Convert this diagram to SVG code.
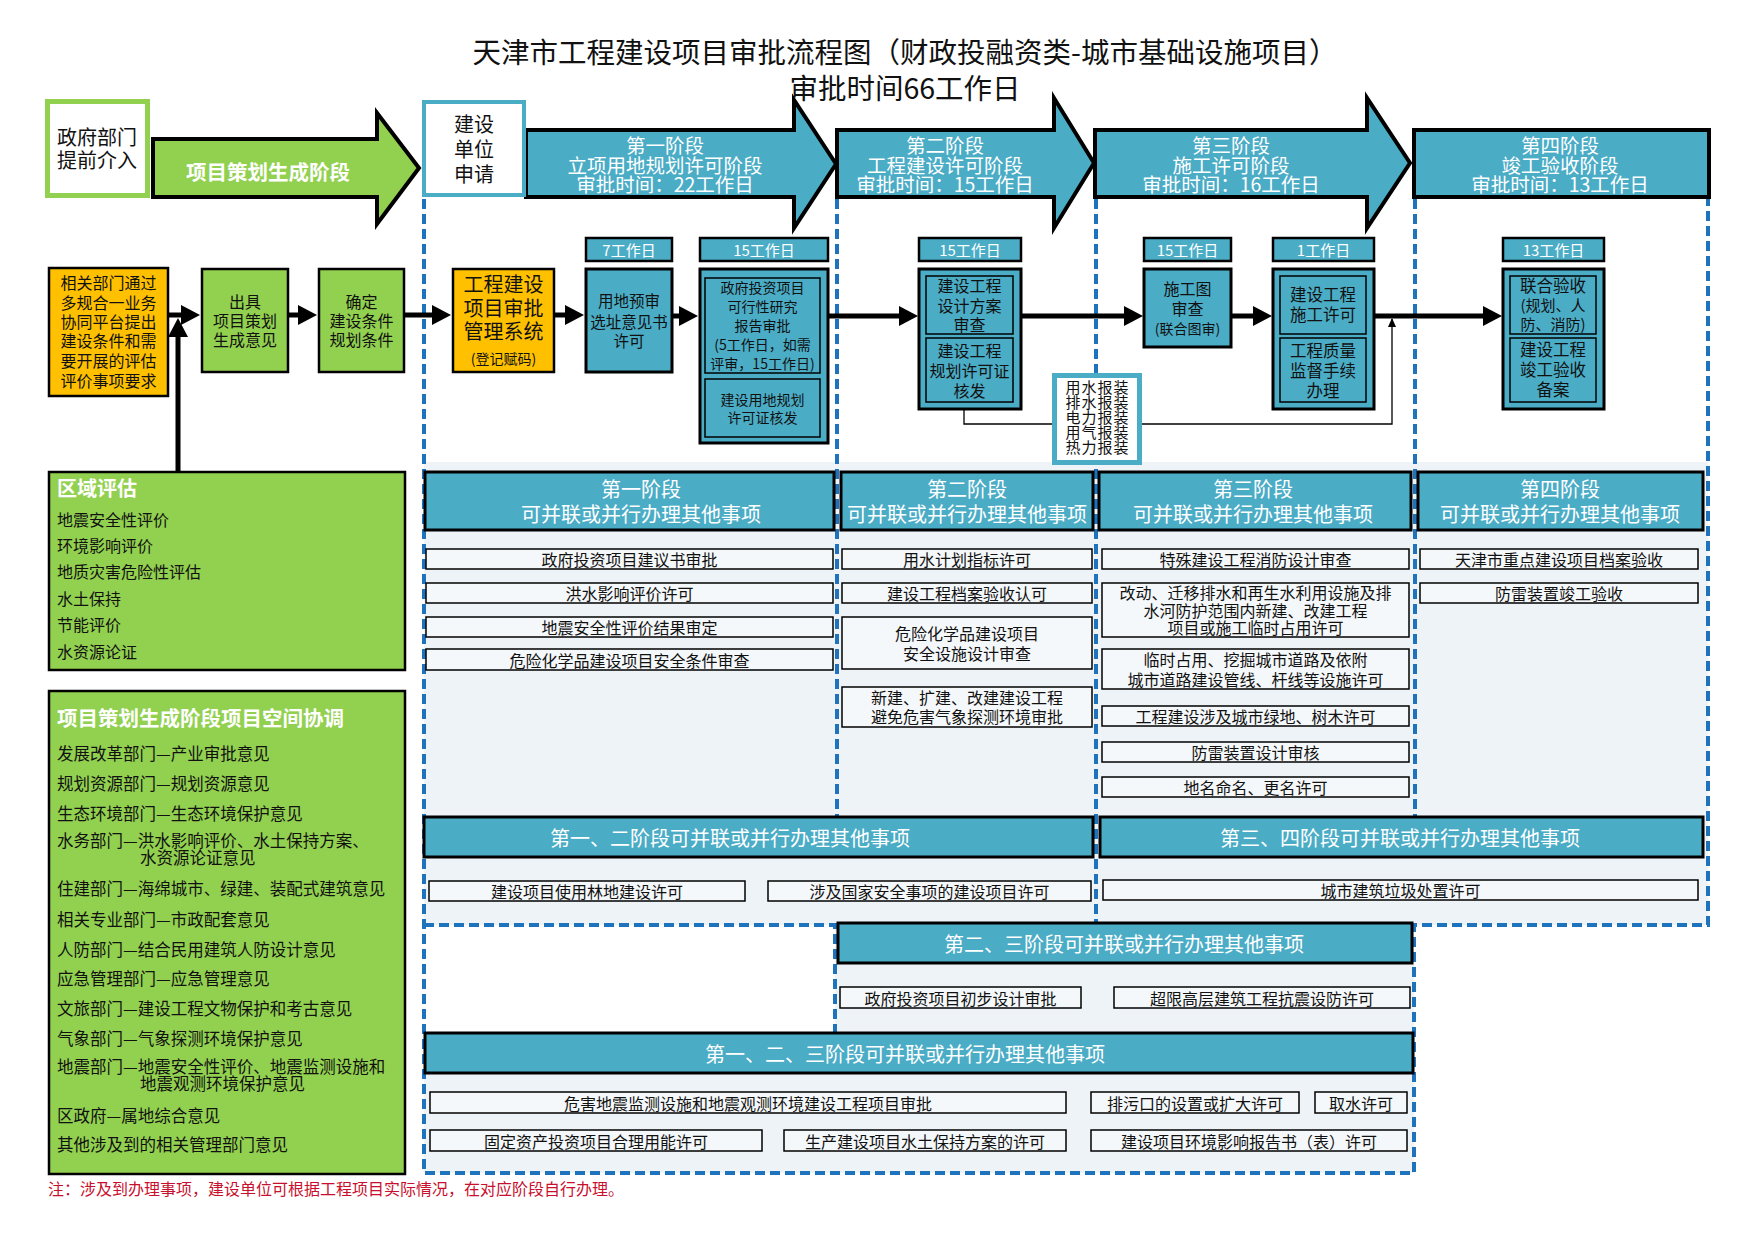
<svg xmlns="http://www.w3.org/2000/svg" width="1754" height="1240" viewBox="0 0 1754 1240">
<defs>
<style>
text{font-family:"Noto Sans CJK SC","Noto Sans CJK JP",sans-serif;dominant-baseline:central;text-anchor:middle;fill:#111;font-size:16px}
tspan{dominant-baseline:central}
.w{fill:#fff}
.bd{font-weight:bold}
.l{text-anchor:start}
.f14{font-size:14px}
.f15{font-size:15px}
.f20{font-size:20px}
.hd{font-size:19.5px;fill:#fff}
.ut{font-size:15px;letter-spacing:1px}
.cd{font-size:16.5px;text-anchor:start}
.blk{fill:#4bacc6;stroke:#000;stroke-width:3}
.inn{fill:#4bacc6;stroke:#000;stroke-width:1.5}
.lab{fill:#4bacc6;stroke:#000;stroke-width:2.5}
.bar{fill:#4bacc6;stroke:#000;stroke-width:3}
.item{fill:#f5f8fa;stroke:#000;stroke-width:1.5}
.grn{fill:#92d050;stroke:#000;stroke-width:2.5}
.org{fill:#ffc000;stroke:#000;stroke-width:2.5}
.dash{fill:none;stroke:#1f72bc;stroke-width:4;stroke-dasharray:10 5}
.thick{stroke:#000;stroke-width:5;fill:none;marker-end:url(#ah)}
.thin{stroke:#000;stroke-width:1.3;fill:none;marker-end:url(#ah2)}
.big{stroke:#000;stroke-width:4;stroke-linejoin:miter}
</style>
<marker id="ah" markerUnits="userSpaceOnUse" markerWidth="20" markerHeight="20" refX="9" refY="10" orient="auto"><path d="M0,0 L19,10 L0,20 z" fill="#000"/></marker>
<marker id="ah2" markerUnits="userSpaceOnUse" markerWidth="9" markerHeight="8" refX="8" refY="4" orient="auto"><path d="M0,0 L9,4 L0,8 z" fill="#000"/></marker>
</defs>
<rect width="1754" height="1240" fill="#fff"/>

<g id="title">
<text style="font-size:28.5px"><tspan x="905" y="50">天津市工程建设项目审批流程图（财政投融资类-城市基础设施项目）</tspan><tspan x="905" y="86">审批时间66工作日</tspan></text>
</g>

<g id="regions">
<path d="M424,462 H1708 V925 H1414 V1173 H424 V1033 H835 V925 H424 Z" fill="#eef3f7"/>
<path class="dash" d="M424,199 V1173 H1414 V925 H1708 V199"/>
<path class="dash" d="M424,925 H835 V1033"/>
<path class="dash" d="M837,199 V817"/>
<path class="dash" d="M1096,199 V925"/>
<path class="dash" d="M1415,199 V817"/>
</g>

<g id="connectors">
<path class="thick" d="M168,315 H190"/>
<path class="thick" d="M178,472 V328"/>
<path class="thick" d="M288,315 H307"/>
<path class="thick" d="M404,315 H441"/>
<path class="thick" d="M554,315 H574"/>
<path class="thick" d="M672,316 H688"/>
<path class="thick" d="M828,316 H908"/>
<path class="thick" d="M1021,316 H1133"/>
<path class="thick" d="M1231,316 H1262"/>
<path class="thick" d="M1374,316 H1492"/>
<path class="thin" d="M964,409 V424 H1392 V319"/>
</g>

<g id="n-gov">
<rect x="47.5" y="101.5" width="100" height="94" fill="#fff" stroke="#92d050" stroke-width="5"/>
<text class="f20"><tspan x="97" y="136">政府部门</tspan><tspan x="97" y="159">提前介入</tspan></text>
</g>

<g id="n-stage0">
<polygon class="big" fill="#92d050" points="153,139 377,139 377,113 419,168 377,224 377,197 153,197"/>
<text x="268" y="171" class="w bd" style="font-size:20.5px">项目策划生成阶段</text>
</g>

<g id="n-stage1">
<polygon class="big" fill="#4bacc6" points="526,130 794,130 794,100 836,164 794,228 794,197 526,197"/>
<text class="hd"><tspan x="665" y="144">第一阶段</tspan><tspan x="665" y="163.5">立项用地规划许可阶段</tspan><tspan x="665" y="183">审批时间：22工作日</tspan></text>
</g>

<g id="n-apply">
<rect x="424" y="102" width="100" height="93" fill="#fff" stroke="#4bacc6" stroke-width="4"/>
<text class="f20"><tspan x="474" y="123">建设</tspan><tspan x="474" y="148">单位</tspan><tspan x="474" y="173">申请</tspan></text>
</g>

<g id="n-stage2">
<polygon class="big" fill="#4bacc6" points="837,130 1054,130 1054,98 1094,163 1054,228 1054,197 837,197"/>
<text class="hd"><tspan x="945" y="144">第二阶段</tspan><tspan x="945" y="163.5">工程建设许可阶段</tspan><tspan x="945" y="183">审批时间：15工作日</tspan></text>
</g>

<g id="n-stage3">
<polygon class="big" fill="#4bacc6" points="1095,130 1367,130 1367,98 1410,163 1367,228 1367,197 1095,197"/>
<text class="hd"><tspan x="1231" y="144">第三阶段</tspan><tspan x="1231" y="163.5">施工许可阶段</tspan><tspan x="1231" y="183">审批时间：16工作日</tspan></text>
</g>

<g id="n-stage4">
<rect class="big" fill="#4bacc6" x="1414" y="130" width="295" height="67"/>
<text class="hd"><tspan x="1560" y="144">第四阶段</tspan><tspan x="1560" y="163.5">竣工验收阶段</tspan><tspan x="1560" y="183">审批时间：13工作日</tspan></text>
</g>

<g id="n-dept">
<rect class="org" x="49" y="268" width="119" height="128"/>
<text><tspan x="108.5" y="282">相关部门通过</tspan><tspan x="108.5" y="302">多规合一业务</tspan><tspan x="108.5" y="321">协同平台提出</tspan><tspan x="108.5" y="340">建设条件和需</tspan><tspan x="108.5" y="360">要开展的评估</tspan><tspan x="108.5" y="380">评价事项要求</tspan></text>
</g>

<g id="n-opinion">
<rect class="grn" x="202" y="269" width="86" height="103"/>
<text><tspan x="245" y="301">出具</tspan><tspan x="245" y="320">项目策划</tspan><tspan x="245" y="339">生成意见</tspan></text>
</g>

<g id="n-conditions">
<rect class="grn" x="319" y="269" width="85" height="103"/>
<text><tspan x="361.5" y="301">确定</tspan><tspan x="361.5" y="320">建设条件</tspan><tspan x="361.5" y="339">规划条件</tspan></text>
</g>

<g id="n-system">
<rect class="org" x="453" y="269" width="101" height="103"/>
<text class="f20"><tspan x="503.5" y="283">工程建设</tspan><tspan x="503.5" y="307">项目审批</tspan><tspan x="503.5" y="330">管理系统</tspan><tspan x="503.5" y="358" style="font-size:14px">(登记赋码)</tspan></text>
</g>

<g id="n-land">
<rect class="lab" x="586" y="238" width="86" height="23"/>
<text x="629" y="249.5" class="w f15">7工作日</text>
<rect class="blk" x="586" y="269" width="86" height="103"/>
<text style="font-size:15.5px"><tspan x="629" y="300">用地预审</tspan><tspan x="629" y="321">选址意见书</tspan><tspan x="629" y="340">许可</tspan></text>
</g>

<g id="n-feasibility">
<rect class="lab" x="700" y="238" width="128" height="23"/>
<text x="764" y="249.5" class="w f15">15工作日</text>
<rect class="blk" x="700" y="269" width="128" height="174"/>
<rect class="inn" x="705" y="278" width="115" height="95"/>
<text class="f14"><tspan x="762.5" y="287">政府投资项目</tspan><tspan x="762.5" y="306">可行性研究</tspan><tspan x="762.5" y="325">报告审批</tspan><tspan x="762.5" y="344">(5工作日，如需</tspan><tspan x="762.5" y="363">评审，15工作日)</tspan></text>
<rect class="inn" x="705" y="379" width="115" height="58"/>
<text class="f14"><tspan x="762.5" y="399">建设用地规划</tspan><tspan x="762.5" y="417">许可证核发</tspan></text>
</g>

<g id="n-design">
<rect class="lab" x="919" y="238" width="102" height="23"/>
<text x="970" y="249.5" class="w f15">15工作日</text>
<rect class="blk" x="919" y="269" width="102" height="140"/>
<rect class="inn" x="926" y="276" width="87" height="58"/>
<text><tspan x="969.5" y="285">建设工程</tspan><tspan x="969.5" y="305">设计方案</tspan><tspan x="969.5" y="324">审查</tspan></text>
<rect class="inn" x="926" y="338" width="87" height="64"/>
<text><tspan x="969.5" y="350">建设工程</tspan><tspan x="969.5" y="370">规划许可证</tspan><tspan x="969.5" y="390">核发</tspan></text>
</g>

<g id="n-utility">
<rect x="1054.5" y="375.5" width="85" height="87" fill="#fff" stroke="#4bacc6" stroke-width="5"/>
<text class="ut"><tspan x="1097.5" y="386">用水报装</tspan><tspan x="1097.5" y="401">排水报装</tspan><tspan x="1097.5" y="416">电力报装</tspan><tspan x="1097.5" y="431">用气报装</tspan><tspan x="1097.5" y="446">热力报装</tspan></text>
</g>

<g id="n-drawing">
<rect class="lab" x="1144" y="238" width="87" height="23"/>
<text x="1187.5" y="249.5" class="w f15">15工作日</text>
<rect class="blk" x="1144" y="269" width="87" height="78"/>
<text><tspan x="1187.5" y="288">施工图</tspan><tspan x="1187.5" y="308">审查</tspan><tspan x="1187.5" y="328" style="font-size:14px">(联合图审)</tspan></text>
</g>

<g id="n-permit">
<rect class="lab" x="1273" y="238" width="101" height="23"/>
<text x="1323.5" y="249.5" class="w f15">1工作日</text>
<rect class="blk" x="1273" y="269" width="101" height="140"/>
<rect class="inn" x="1280" y="276" width="86" height="58"/>
<text style="font-size:16.5px"><tspan x="1323" y="294">建设工程</tspan><tspan x="1323" y="314">施工许可</tspan></text>
<rect class="inn" x="1280" y="338" width="86" height="64"/>
<text style="font-size:16.5px"><tspan x="1323" y="350">工程质量</tspan><tspan x="1323" y="370">监督手续</tspan><tspan x="1323" y="390">办理</tspan></text>
</g>

<g id="n-acceptance">
<rect class="lab" x="1503" y="238" width="101" height="23"/>
<text x="1553.5" y="249.5" class="w f15">13工作日</text>
<rect class="blk" x="1503" y="269" width="101" height="140"/>
<rect class="inn" x="1510" y="276" width="86" height="58"/>
<text style="font-size:16.5px"><tspan x="1553" y="285">联合验收</tspan><tspan x="1553" y="304" style="font-size:15px">(规划、人</tspan><tspan x="1553" y="323" style="font-size:15px">防、消防)</tspan></text>
<rect class="inn" x="1510" y="338" width="86" height="64"/>
<text style="font-size:16.5px"><tspan x="1553" y="349">建设工程</tspan><tspan x="1553" y="369">竣工验收</tspan><tspan x="1553" y="389">备案</tspan></text>
</g>

<g id="n-regional">
<rect class="grn" x="49" y="472" width="356" height="198"/>
<text x="57" y="487" class="l w bd f20">区域评估</text>
<text x="57" y="519" class="l">地震安全性评价</text>
<text x="57" y="545" class="l">环境影响评价</text>
<text x="57" y="571" class="l">地质灾害危险性评估</text>
<text x="57" y="598" class="l">水土保持</text>
<text x="57" y="624" class="l">节能评价</text>
<text x="57" y="651" class="l">水资源论证</text>
</g>

<g id="n-coord">
<rect class="grn" x="49" y="691" width="356" height="483"/>
<text x="57" y="717" class="l w bd" style="font-size:20.5px">项目策划生成阶段项目空间协调</text>
<text x="57" y="753" class="cd">发展改革部门—产业审批意见</text>
<text x="57" y="783" class="cd">规划资源部门—规划资源意见</text>
<text x="57" y="813" class="cd">生态环境部门—生态环境保护意见</text>
<text class="cd"><tspan x="57" y="840">水务部门—洪水影响评价、水土保持方案、</tspan><tspan x="140" y="857">水资源论证意见</tspan></text>
<text x="57" y="888" class="cd">住建部门—海绵城市、绿建、装配式建筑意见</text>
<text x="57" y="919" class="cd">相关专业部门—市政配套意见</text>
<text x="57" y="949" class="cd">人防部门—结合民用建筑人防设计意见</text>
<text x="57" y="978" class="cd">应急管理部门—应急管理意见</text>
<text x="57" y="1008" class="cd">文旅部门—建设工程文物保护和考古意见</text>
<text x="57" y="1038" class="cd">气象部门—气象探测环境保护意见</text>
<text class="cd"><tspan x="57" y="1066">地震部门—地震安全性评价、地震监测设施和</tspan><tspan x="140" y="1083">地震观测环境保护意见</tspan></text>
<text x="57" y="1115" class="cd">区政府—属地综合意见</text>
<text x="57" y="1144" class="cd">其他涉及到的相关管理部门意见</text>
</g>

<g id="n-p1">
<rect class="bar" x="425" y="472" width="409" height="58"/>
<text class="w f20"><tspan x="641" y="488">第一阶段</tspan><tspan x="641" y="513">可并联或并行办理其他事项</tspan></text>
<rect class="item" x="426" y="549" width="407" height="20"/><text x="629.5" y="559">政府投资项目建议书审批</text>
<rect class="item" x="426" y="583" width="407" height="20"/><text x="629.5" y="593">洪水影响评价许可</text>
<rect class="item" x="426" y="617" width="407" height="20"/><text x="629.5" y="627">地震安全性评价结果审定</text>
<rect class="item" x="426" y="649" width="407" height="21"/><text x="629.5" y="659.5">危险化学品建设项目安全条件审查</text>
</g>

<g id="n-p2">
<rect class="bar" x="841" y="472" width="252" height="58"/>
<text class="w f20"><tspan x="967" y="488">第二阶段</tspan><tspan x="967" y="513">可并联或并行办理其他事项</tspan></text>
<rect class="item" x="842" y="549" width="250" height="20"/><text x="967" y="559">用水计划指标许可</text>
<rect class="item" x="842" y="583" width="250" height="20"/><text x="967" y="593">建设工程档案验收认可</text>
<rect class="item" x="842" y="617" width="250" height="52"/><text><tspan x="967" y="633">危险化学品建设项目</tspan><tspan x="967" y="653">安全设施设计审查</tspan></text>
<rect class="item" x="842" y="687" width="250" height="40"/><text><tspan x="967" y="697">新建、扩建、改建建设工程</tspan><tspan x="967" y="716">避免危害气象探测环境审批</tspan></text>
</g>

<g id="n-p3">
<rect class="bar" x="1099" y="472" width="312" height="58"/>
<text class="w f20"><tspan x="1253" y="488">第三阶段</tspan><tspan x="1253" y="513">可并联或并行办理其他事项</tspan></text>
<rect class="item" x="1102" y="549" width="307" height="20"/><text x="1255.5" y="559">特殊建设工程消防设计审查</text>
<rect class="item" x="1102" y="583" width="307" height="54"/><text><tspan x="1255.5" y="592">改动、迁移排水和再生水利用设施及排</tspan><tspan x="1255.5" y="609.5">水河防护范围内新建、改建工程</tspan><tspan x="1255.5" y="627">项目或施工临时占用许可</tspan></text>
<rect class="item" x="1102" y="649" width="307" height="40"/><text><tspan x="1255.5" y="659">临时占用、挖掘城市道路及依附</tspan><tspan x="1255.5" y="679">城市道路建设管线、杆线等设施许可</tspan></text>
<rect class="item" x="1102" y="706" width="307" height="20"/><text x="1255.5" y="716">工程建设涉及城市绿地、树木许可</text>
<rect class="item" x="1102" y="742" width="307" height="20"/><text x="1255.5" y="752">防雷装置设计审核</text>
<rect class="item" x="1102" y="777" width="307" height="20"/><text x="1255.5" y="787">地名命名、更名许可</text>
</g>

<g id="n-p4">
<rect class="bar" x="1418" y="472" width="285" height="58"/>
<text class="w f20"><tspan x="1560" y="488">第四阶段</tspan><tspan x="1560" y="513">可并联或并行办理其他事项</tspan></text>
<rect class="item" x="1420" y="549" width="278" height="20"/><text x="1559" y="559">天津市重点建设项目档案验收</text>
<rect class="item" x="1420" y="583" width="278" height="20"/><text x="1559" y="593">防雷装置竣工验收</text>
</g>

<g id="n-p12">
<rect class="bar" x="424" y="817" width="669" height="40"/>
<text x="730" y="837" class="w f20">第一、二阶段可并联或并行办理其他事项</text>
<rect class="item" x="429" y="881" width="316" height="20"/><text x="587" y="891">建设项目使用林地建设许可</text>
<rect class="item" x="768" y="881" width="323" height="20"/><text x="929.5" y="891">涉及国家安全事项的建设项目许可</text>
</g>

<g id="n-p34">
<rect class="bar" x="1100" y="817" width="603" height="40"/>
<text x="1400" y="837" class="w f20">第三、四阶段可并联或并行办理其他事项</text>
<rect class="item" x="1103" y="880" width="595" height="20"/><text x="1400.5" y="890">城市建筑垃圾处置许可</text>
</g>

<g id="n-p23">
<rect class="bar" x="838" y="923" width="574" height="40"/>
<text x="1124" y="943" class="w f20">第二、三阶段可并联或并行办理其他事项</text>
<rect class="item" x="840" y="987" width="241" height="21"/><text x="960.5" y="997.5">政府投资项目初步设计审批</text>
<rect class="item" x="1114" y="987" width="296" height="21"/><text x="1262" y="997.5">超限高层建筑工程抗震设防许可</text>
</g>

<g id="n-p123">
<rect class="bar" x="425" y="1033" width="988" height="40"/>
<text x="905" y="1053" class="w f20">第一、二、三阶段可并联或并行办理其他事项</text>
<rect class="item" x="430" y="1092" width="636" height="21"/><text x="748" y="1102.5">危害地震监测设施和地震观测环境建设工程项目审批</text>
<rect class="item" x="1091" y="1092" width="208" height="21"/><text x="1195" y="1102.5">排污口的设置或扩大许可</text>
<rect class="item" x="1315" y="1092" width="92" height="21"/><text x="1361" y="1102.5">取水许可</text>
<rect class="item" x="430" y="1130" width="332" height="21"/><text x="596" y="1140.5">固定资产投资项目合理用能许可</text>
<rect class="item" x="784" y="1130" width="282" height="21"/><text x="925" y="1140.5">生产建设项目水土保持方案的许可</text>
<rect class="item" x="1091" y="1130" width="316" height="21"/><text x="1249" y="1140.5">建设项目环境影响报告书（表）许可</text>
</g>

<g id="note">
<text x="48" y="1188" class="l" style="fill:#c8102e;font-size:16px">注：涉及到办理事项，建设单位可根据工程项目实际情况，在对应阶段自行办理。</text>
</g>
</svg>
